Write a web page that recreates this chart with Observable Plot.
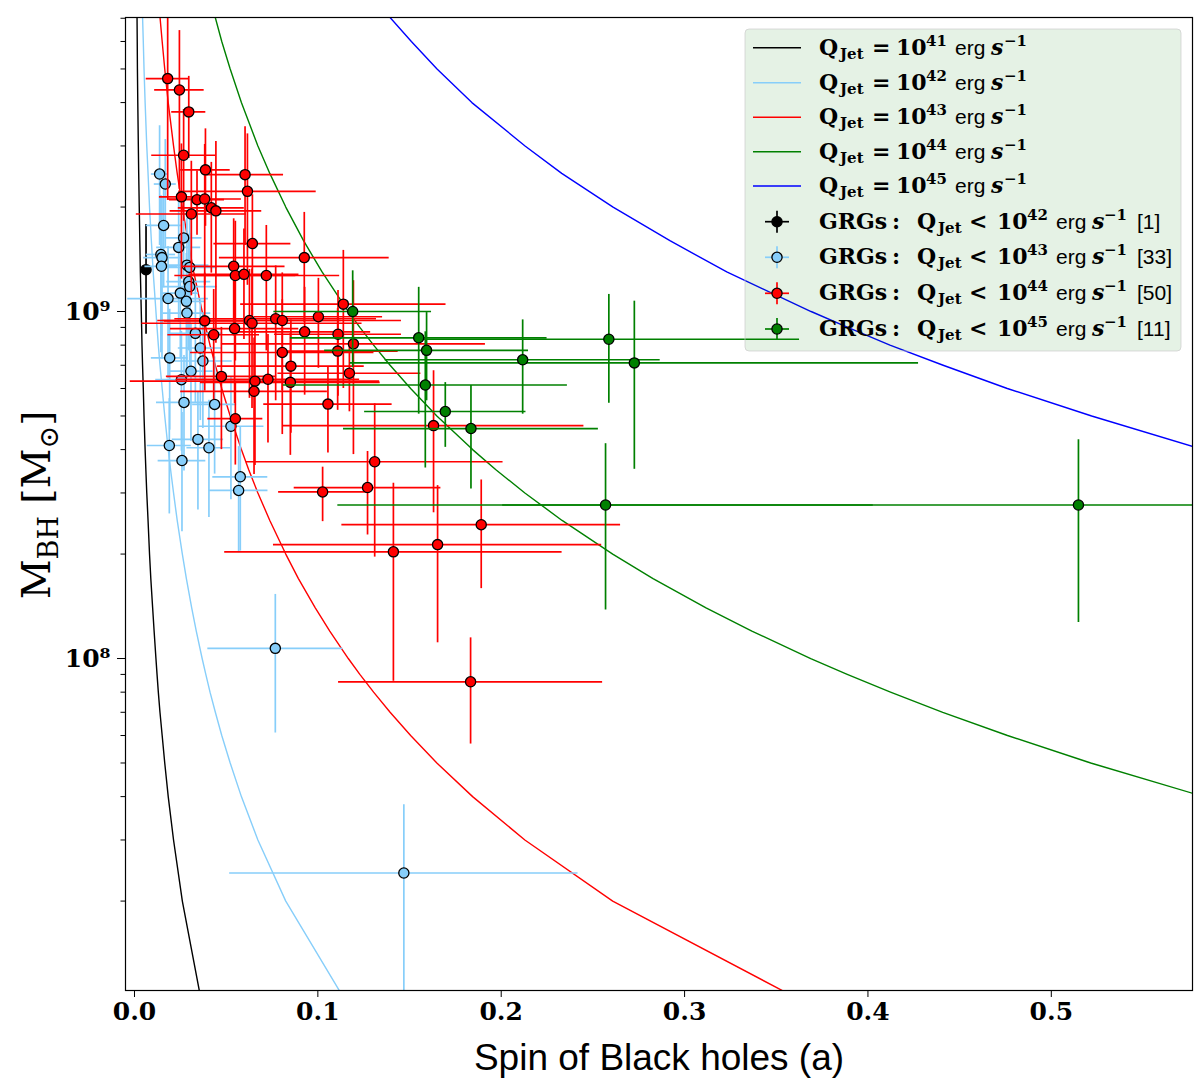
<!DOCTYPE html>
<html><head><meta charset="utf-8">
<script src="https://cdn.jsdelivr.net/npm/d3@7"></script>
<script src="https://cdn.jsdelivr.net/npm/@observablehq/plot@0.6"></script>
<style>
body{margin:0;background:#fff;}
#chart{position:relative;width:1200px;height:1086px;}
</style></head><body><div id="chart"></div>
<script>
// ---- model curves: Q_Jet = const, black-hole mass grid and spin ----
const curveMass = [1e7,2e7,3e7,4e7,5e7,6e7,7e7,8e7,9e7,1e8,1.2e8,1.4e8,1.7e8,2e8,2.5e8,3e8,3.5e8,4e8,5e8,6e8,7e8,8e8,9e8,1e9,1.3e9,1.6e9,2e9,2.5e9,3e9,4e9,5e9,6e9,8e9,1e10];
const spinQ41 = [0.0369,0.0261,0.0213,0.0184,0.0165,0.0151,0.0139,0.0130,0.0123,0.0117,0.0107,0.0099,0.0089,0.0082,0.0074,0.0067,0.0062,0.0058,0.0052,0.0048,0.0044,0.0041,0.0039,0.0037,0.0032,0.0029,0.0026,0.0023,0.0021,0.0018,0.0016,0.0015,0.0013,0.0012];
const spinQ42 = [0.1166,0.0825,0.0673,0.0583,0.0522,0.0476,0.0441,0.0412,0.0389,0.0369,0.0337,0.0312,0.0283,0.0261,0.0233,0.0213,0.0197,0.0184,0.0165,0.0151,0.0139,0.0130,0.0123,0.0117,0.0102,0.0092,0.0082,0.0074,0.0067,0.0058,0.0052,0.0048,0.0041,0.0037];
const spinQ43 = [0.3688,0.2608,0.2129,0.1844,0.1649,0.1506,0.1394,0.1304,0.1229,0.1166,0.1065,0.0986,0.0894,0.0825,0.0738,0.0673,0.0623,0.0583,0.0522,0.0476,0.0441,0.0412,0.0389,0.0369,0.0323,0.0292,0.0261,0.0233,0.0213,0.0184,0.0165,0.0151,0.0130,0.0117];
const spinQ44 = [1.1662,0.8246,0.6733,0.5831,0.5215,0.4761,0.4408,0.4123,0.3887,0.3688,0.3367,0.3117,0.2828,0.2608,0.2332,0.2129,0.1971,0.1844,0.1649,0.1506,0.1394,0.1304,0.1229,0.1166,0.1023,0.0922,0.0825,0.0738,0.0673,0.0583,0.0522,0.0476,0.0412,0.0369];
const spinQ45 = [3.688,2.608,2.129,1.844,1.649,1.506,1.394,1.304,1.229,1.166,1.065,0.986,0.894,0.825,0.738,0.673,0.623,0.583,0.522,0.476,0.441,0.412,0.389,0.369,0.323,0.292,0.261,0.233,0.213,0.184,0.165,0.151,0.130,0.117];

// ---- GRG samples ----
const blackSpin = [0.0063];
const blackSpinErr = [0.002];
const blackMass = [1.32e9];
const blackMassErr = [4.6e8];

const lbSpin = [0.0137,0.0168,0.0159,0.0268,0.0241,0.0144,0.0150,0.0147,0.0286,0.0301,0.0296,0.0301,0.0250,0.0183,0.0283,0.0286,0.0332,0.0359,0.0192,0.0373,0.0308,0.0256,0.0270,0.0437,0.0526,0.0190,0.0346,0.0406,0.0259,0.0577,0.0568,0.0768,0.1469];
const lbSpinErr = [0.0045,0.006,0.0095,0.010,0.012,0.008,0.010,0.009,0.012,0.015,0.012,0.015,0.010,0.022,0.010,0.013,0.015,0.012,0.010,0.016,0.012,0.014,0.015,0.012,0.018,0.012,0.014,0.012,0.013,0.015,0.016,0.0368,0.095];
const lbMass = [2.49e9,2.33e9,1.77e9,1.63e9,1.53e9,1.46e9,1.43e9,1.35e9,1.36e9,1.34e9,1.22e9,1.18e9,1.13e9,1.09e9,1.07e9,9.9e8,8.65e8,7.85e8,7.35e8,7.2e8,6.73e8,6.36e8,5.47e8,5.4e8,4.67e8,4.11e8,4.28e8,4.05e8,3.72e8,3.34e8,3.05e8,1.07e8,2.41e7];
const lbMassErr = [0.94e9,0.8e9,0.6e9,0.55e9,0.6e9,0.7e9,0.7e9,0.5e9,0.5e9,0.55e9,0.45e9,0.5e9,0.4e9,0.45e9,0.4e9,3.5e8,3.2e8,3.0e8,2.8e8,2.6e8,2.5e8,2.4e8,2.0e8,2.0e8,1.8e8,1.5e8,1.6e8,1.5e8,1.4e8,1.3e8,1.03e8,4.6e7,1.38e7];

const redSpin = [0.0181,0.0245,0.0296,0.0268,0.0387,0.0603,0.0616,0.0256,0.0341,0.0383,0.0419,0.0444,0.0310,0.0643,0.0926,0.0541,0.0550,0.0597,0.0719,0.0383,0.0627,0.0641,0.0546,0.0432,0.0770,0.0806,0.1003,0.0928,0.0806,0.0853,0.0474,0.0657,0.0728,0.0850,0.0652,0.1055,0.0550,0.1026,0.1139,0.1110,0.1194,0.1108,0.1172,0.1631,0.1310,0.1271,0.1891,0.1653,0.1412,0.1833];
const redSpinErr = [0.0117,0.0135,0.0093,0.0174,0.0135,0.021,0.0375,0.012,0.015,0.020,0.018,0.025,0.030,0.021,0.0463,0.028,0.033,0.030,0.040,0.022,0.050,0.060,0.035,0.025,0.055,0.065,0.035,0.036,0.050,0.040,0.030,0.068,0.050,0.049,0.040,0.035,0.015,0.024,0.056,0.0346,0.072,0.033,0.039,0.082,0.070,0.040,0.076,0.0895,0.092,0.072];
const redMass = [4.69e9,4.35e9,3.76e9,2.82e9,2.56e9,2.48e9,2.22e9,2.14e9,2.10e9,2.11e9,1.99e9,1.95e9,1.91e9,1.57e9,1.43e9,1.35e9,1.27e9,1.28e9,1.27e9,9.4e8,9.42e8,9.25e8,8.93e8,8.57e8,9.53e8,9.42e8,9.66e8,8.74e8,7.62e8,6.96e8,6.5e8,6.3e8,6.38e8,6.25e8,5.89e8,5.41e8,4.91e8,3.02e8,1.05e9,8.6e8,8.07e8,7.69e8,6.64e8,4.69e8,3.69e8,3.11e8,2.43e8,2.13e8,2.03e8,8.57e7];
const redMassErr = [2.6e9,2.1e9,1.0e9,1.0e9,0.8e9,0.93e9,1.03e9,0.9e9,0.44e9,0.92e9,0.7e9,1.14e9,0.8e9,0.6e9,0.5e9,0.5e9,0.55e9,0.45e9,0.5e9,3.5e8,3.8e8,4.0e8,3.5e8,3.0e8,4.0e8,3.5e8,2.8e8,3.0e8,3.2e8,2.5e8,2.5e8,2.7e8,2.2e8,2.4e8,2.5e8,1.5e8,1.3e8,0.54e8,4.5e8,2.9e8,4.2e8,2.5e8,1.5e8,2.06e8,1.73e8,0.84e8,0.84e8,1.02e8,1.17e8,2.9e7];

const greenSpin = [0.1190,0.1550,0.1593,0.2117,0.2587,0.2726,0.1586,0.1695,0.1835,0.2569,0.5148];
const greenSpinErr = [0.043,0.070,0.0556,0.075,0.104,0.155,0.0775,0.044,0.0695,0.146,0.314];
const greenMass = [1.0e9,8.4e8,7.73e8,7.26e8,8.32e8,7.11e8,6.14e8,5.15e8,4.6e8,2.77e8,2.77e8];
const greenMassErr = [3.1e8,3.34e8,2.2e8,2.2e8,2.88e8,3.6e8,2.6e8,1.09e8,1.52e8,1.39e8,1.5e8];

// ---- axes ----
const xTicks = [0, 0.1, 0.2, 0.3, 0.4, 0.5];
const yTicks = [1e8, 1e9];
const yTickLabels = ["10⁸", "10⁹"];
const yMinorTicks = [2e7,3e7,4e7,5e7,6e7,7e7,8e7,9e7,2e8,3e8,4e8,5e8,6e8,7e8,8e8,9e8,2e9,3e9,4e9,5e9,6e9,7e9];

// ---- legend text ----
const curveExps = ["41","42","43","44","45"];
const curveColors = ["black","#87cefa","red","green","blue"];
const grgExps = ["42","43","44","45"];
const grgCounts = ["[1]","[33]","[50]","[11]"];
const grgColors = ["black","#87cefa","red","green"];

// ---- build tables ----
const curveTable = (spins) => curveMass.map((m, i) => ({a: spins[i], M: m}));
const groupTable = (s, se, m, me) => s.map((a, i) => ({a, ae: se[i], M: m[i], me: me[i]}));

const curves = [spinQ41, spinQ42, spinQ43, spinQ44, spinQ45];
const groups = [
  [groupTable(blackSpin, blackSpinErr, blackMass, blackMassErr), "black"],
  [groupTable(lbSpin, lbSpinErr, lbMass, lbMassErr), "#87cefa"],
  [groupTable(redSpin, redSpinErr, redMass, redMassErr), "red"],
  [groupTable(greenSpin, greenSpinErr, greenMass, greenMassErr), "green"]
];
const DOT_R = 5.1;

const marks = [];
curves.forEach((c, i) => marks.push(Plot.line(curveTable(c), {x: "a", y: "M", stroke: curveColors[i], strokeWidth: 1.4, clip: true})));
groups.forEach(([data, color]) => {
  marks.push(Plot.ruleY(data, {y: "M", x1: d => d.a - d.ae, x2: d => d.a + d.ae, stroke: color, strokeWidth: 1.7, clip: true}));
  marks.push(Plot.ruleX(data, {x: "a", y1: d => d.M - d.me, y2: d => d.M + d.me, stroke: color, strokeWidth: 1.7, clip: true}));
  marks.push(Plot.dot(data, {x: "a", y: "M", r: DOT_R, fill: color, stroke: "black", strokeWidth: 1.3, clip: true}));
});
marks.push(Plot.axisX({ticks: xTicks, tickFormat: d3.format(".1f"), tickSize: 7, tickPadding: 5, label: null,
  fontSize: 25, fontWeight: "bold", fontFamily: "DejaVu Serif"}));
marks.push(Plot.axisY({ticks: yMinorTicks, tickSize: 4.5, tickFormat: () => "", label: null}));
marks.push(Plot.axisY({ticks: yTicks, tickFormat: d => yTickLabels[yTicks.indexOf(d)], tickSize: 8, tickPadding: 7, label: null,
  fontSize: 25, fontWeight: "bold", fontFamily: "DejaVu Serif"}));
marks.push(Plot.frame({stroke: "black", strokeWidth: 1.2}));

const plot = Plot.plot({
  width: 1200, height: 1086,
  marginLeft: 125, marginRight: 8, marginTop: 17, marginBottom: 96,
  x: {domain: [-0.0049, 0.577]},
  y: {type: "log", domain: [1.105e7, 7.035e9]},
  style: {fontFamily: "'DejaVu Serif', serif", fontSize: "25px", fontWeight: "bold", background: "white", color: "black", overflow: "visible"},
  marks
});
document.getElementById("chart").appendChild(plot);

// ---- labels & legend ----
const SERIF = "'DejaVu Serif', serif";
const SANS = "'Liberation Sans', Arial, sans-serif";
const svg = d3.select(plot);

svg.append("text").attr("x", 659).attr("y", 1070).attr("text-anchor", "middle")
  .style("font-family", SANS).style("font-size", "37px").style("font-weight", "normal")
  .attr("fill", "black").text("Spin of Black holes (a)");

const yl = svg.append("text").attr("transform", "translate(50,505) rotate(-90)").attr("text-anchor", "middle")
  .style("font-family", SERIF).style("font-size", "39px").style("font-weight", "normal").attr("fill", "black");
yl.append("tspan").text("M");
yl.append("tspan").attr("dy", 8).style("font-size", "27px").text("BH");
yl.append("tspan").attr("dy", -8).text(" [M");
yl.append("tspan").attr("dy", 8).style("font-size", "27px").text("⊙");
yl.append("tspan").attr("dy", -8).text("]");

const lg = svg.append("g").attr("text-anchor", "start");
lg.append("rect").attr("x", 745).attr("y", 29).attr("width", 436).attr("height", 322).attr("rx", 4)
  .attr("fill", "green").attr("fill-opacity", 0.1).attr("stroke", "#cccccc").attr("stroke-opacity", 0.7);

function addText(base, parts) {
  const t = lg.append("text").attr("fill", "black").attr("text-anchor", "start");
  parts.forEach(p => {
    t.append("tspan").attr("x", p.x).attr("y", base + (p.dy || 0)).attr("text-anchor", "start")
      .style("font-family", p.f || SERIF).style("font-size", (p.s || 22) + "px")
      .style("font-weight", p.w || "bold").style("font-style", p.i ? "italic" : "normal").text(p.t);
  });
}
const curveRowY = [47.7, 82.7, 117.3, 151.7, 186];
curveExps.forEach((e, i) => {
  const cy = curveRowY[i];
  lg.append("line").attr("x1", 753).attr("x2", 801).attr("y1", cy).attr("y2", cy).attr("stroke", curveColors[i]).attr("stroke-width", 1.5);
  addText(cy + 7, [
    {t: "Q", x: 819}, {t: "Jet", x: 840, s: 15, dy: 4}, {t: "=", x: 872}, {t: "10", x: 896},
    {t: e, x: 926, s: 15, dy: -9}, {t: "erg", x: 955, f: SANS, w: "normal", s: 21},
    {t: "s", x: 991, i: true}, {t: "−1", x: 1004, s: 15, dy: -9}
  ]);
});
const grgRowY = [221.7, 257.3, 293.3, 329];
grgExps.forEach((e, i) => {
  const cy = grgRowY[i];
  const c = grgColors[i];
  lg.append("line").attr("x1", 765).attr("x2", 789).attr("y1", cy).attr("y2", cy).attr("stroke", c).attr("stroke-width", 1.7);
  lg.append("line").attr("x1", 777).attr("x2", 777).attr("y1", cy - 11).attr("y2", cy + 11).attr("stroke", c).attr("stroke-width", 1.7);
  lg.append("circle").attr("cx", 777).attr("cy", cy).attr("r", DOT_R).attr("fill", c).attr("stroke", "black").attr("stroke-width", 1.3);
  addText(cy + 7, [
    {t: "GRGs", x: 819}, {t: ":", x: 892}, {t: "Q", x: 917}, {t: "Jet", x: 938, s: 15, dy: 4},
    {t: "<", x: 969}, {t: "10", x: 997}, {t: e, x: 1027, s: 15, dy: -9},
    {t: "erg", x: 1056, f: SANS, w: "normal", s: 21}, {t: "s", x: 1092, i: true},
    {t: "−1", x: 1104, s: 15, dy: -9}, {t: grgCounts[i], x: 1137, f: SANS, w: "normal", s: 21}
  ]);
});
</script></body></html>
